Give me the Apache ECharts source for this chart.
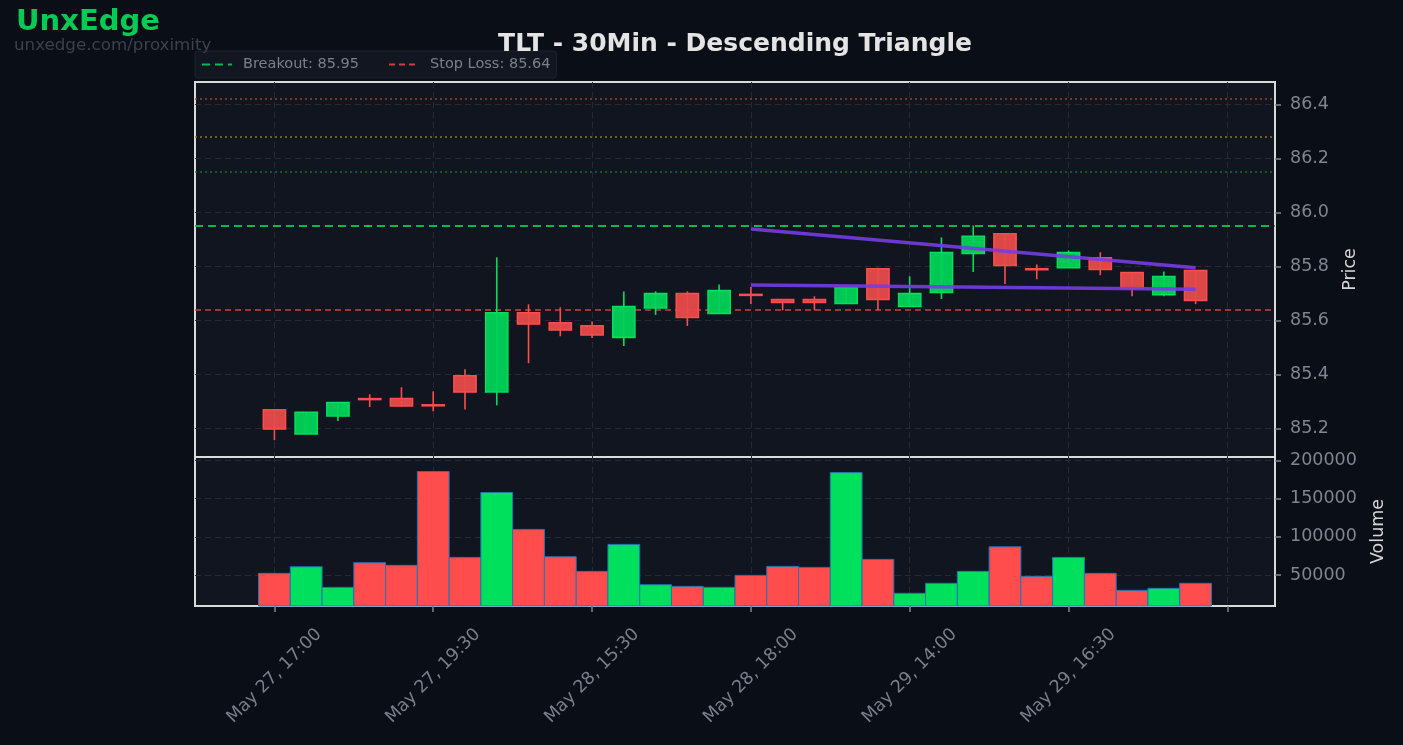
<!DOCTYPE html>
<html>
<head>
<meta charset="utf-8">
<title>TLT - 30Min - Descending Triangle</title>
<script src="https://cdn.jsdelivr.net/npm/echarts@6/dist/echarts.min.js"></script>
<style>
  html, body { margin: 0; padding: 0; background: #0a0e17; }
  #chart { width: 1403px; height: 745px; }
</style>
</head>
<body>
<div id="chart"></div>
<script>
// candle data, 30 bars of 30 minutes
const opens  = [85.269, 85.179, 85.246, 85.310, 85.310, 85.287, 85.395, 85.334, 85.628, 85.591,
                85.580, 85.536, 85.646, 85.699, 85.625, 85.696, 85.677, 85.677, 85.662, 85.791,
                85.651, 85.703, 85.847, 85.921, 85.791, 85.795, 85.832, 85.777, 85.695, 85.784]
const highs  = [85.269, 85.259, 85.297, 85.326, 85.352, 85.337, 85.419, 85.833, 85.659, 85.648,
                85.596, 85.707, 85.707, 85.707, 85.733, 85.723, 85.677, 85.689, 85.725, 85.795,
                85.763, 85.907, 85.951, 85.921, 85.807, 85.859, 85.852, 85.777, 85.781, 85.784]
const lows   = [85.156, 85.179, 85.227, 85.279, 85.280, 85.263, 85.270, 85.285, 85.441, 85.541,
                85.534, 85.505, 85.620, 85.579, 85.625, 85.660, 85.637, 85.637, 85.662, 85.638,
                85.651, 85.679, 85.779, 85.734, 85.752, 85.795, 85.767, 85.689, 85.689, 85.660]
const closes = [85.197, 85.259, 85.296, 85.308, 85.283, 85.285, 85.334, 85.628, 85.586, 85.564,
                85.546, 85.651, 85.699, 85.610, 85.710, 85.694, 85.666, 85.666, 85.721, 85.677,
                85.699, 85.851, 85.911, 85.803, 85.789, 85.851, 85.788, 85.719, 85.762, 85.673]
const volumes = [52200, 60800, 33900, 66100, 62700, 185400, 73100, 158000, 109700, 73900,
                 54800, 90100, 37300, 35200, 33900, 49600, 61300, 60000, 184000, 70500,
                 26100, 39200, 54800, 86900, 48300, 73100, 52200, 30000, 32600, 39200]

// x ticks (bar index) and their labels
const tickPos = [0, 5, 10, 15, 20, 25, 30]
const tickLabels = ['May 27, 17:00', 'May 27, 19:30', 'May 28, 15:30', 'May 28, 18:00',
                    'May 29, 14:00', 'May 29, 16:30', '']

const priceTicks = [85.2, 85.4, 85.6, 85.8, 86.0, 86.2, 86.4]
const volumeTicks = [50000, 100000, 150000, 200000]

// pattern levels
const breakout = 85.95
const stopLoss = 85.64
const targets = [86.15, 86.28, 86.42]
const targetColors = ['#12703f', '#8a7a18', '#99461f']

// triangle trendlines [barIndex, price]
const upperLine = [[15, 85.938], [29, 85.795]]
const lowerLine = [[15, 85.731], [29, 85.715]]

const GREEN = '#00e05c'
const RED = '#ff4d4d'
const FONT = 'DejaVu Sans'

const candleData = opens.map((o, i) => [i, o, closes[i], lows[i], highs[i]])
const volumeData = volumes.map((v, i) => [i, v, closes[i] >= opens[i] ? 1 : 0])

const renderCandle = (params, api) => {
  const x = api.value(0)
  const o = api.value(1)
  const c = api.value(2)
  const up = c >= o
  const col = up ? GREEN : RED
  const fill = up ? 'rgba(0, 210, 88, 0.95)' : 'rgba(232, 74, 74, 0.95)'
  const hi = api.coord([x, api.value(4)])
  const lo = api.coord([x, api.value(3)])
  const top = api.coord([x, Math.max(o, c)])
  const bot = api.coord([x, Math.min(o, c)])
  const w = api.size([0.7, 0])[0]
  const h = Math.max(bot[1] - top[1], 1)
  return {
    type: 'group',
    children: [
      {
        type: 'line',
        shape: { x1: hi[0], y1: hi[1], x2: lo[0], y2: lo[1] },
        style: { stroke: col, lineWidth: 1.6 }
      },
      {
        type: 'rect',
        shape: { x: top[0] - w / 2, y: top[1], width: w, height: h },
        style: { fill: fill, stroke: col, lineWidth: 1.5 }
      }
    ]
  }
}

const renderVolume = (params, api) => {
  const x = api.value(0)
  const left = api.coord([x - 0.5, api.value(1)])
  const right = api.coord([x + 0.5, api.value(1)])
  const base = params.coordSys.y + params.coordSys.height
  return {
    type: 'rect',
    shape: { x: left[0], y: left[1], width: right[0] - left[0], height: base - left[1] },
    style: { fill: api.value(2) ? GREEN : RED, stroke: '#1f77b4', lineWidth: 1 }
  }
}

const gridLine = { show: true, lineStyle: { color: '#262a36', type: [6, 4], width: 1 } }
const tickStyle = { color: '#80858f', width: 1.5 }

const chart = echarts.init(document.getElementById('chart'))

chart.setOption({
  backgroundColor: '#0a0e17',
  animation: false,
  textStyle: { fontFamily: FONT },
  title: [
    {
      text: 'TLT - 30Min - Descending Triangle',
      left: 730,
      top: 27,
      textAlign: 'center',
      textStyle: { color: '#e4e4e4', fontSize: 25, fontWeight: 'bold', fontFamily: FONT }
    },
    {
      text: 'UnxEdge',
      left: 16,
      top: 8,
      padding: 0,
      textStyle: { color: '#00cc55', fontSize: 29, fontWeight: 'bold', fontFamily: FONT }
    },
    {
      text: 'unxedge.com/proximity',
      left: 14,
      top: 37,
      padding: 0,
      textStyle: { color: '#3c414c', fontSize: 16.7, fontWeight: 'normal', fontFamily: FONT }
    }
  ],
  legend: {
    left: 195,
    top: 51,
    padding: [6, 6, 6, 6],
    itemGap: 29,
    itemWidth: 30,
    itemHeight: 14,
    backgroundColor: '#121620',
    borderColor: '#1e2230',
    borderWidth: 1,
    borderRadius: 3,
    itemStyle: { opacity: 0 },
    textStyle: { color: '#7b808b', fontSize: 14.5, fontFamily: FONT, padding: [0, 0, 0, 6] },
    data: ['Breakout: 85.95', 'Stop Loss: 85.64']
  },
  grid: [
    { left: 195, right: 128, top: 82, height: 375, show: true, backgroundColor: '#11151f', borderColor: '#dadada', borderWidth: 2 },
    { left: 195, right: 128, top: 457, height: 149, show: true, backgroundColor: '#11151f', borderColor: '#dadada', borderWidth: 2 }
  ],
  xAxis: [
    {
      type: 'value', gridIndex: 0, min: -2.5, max: 31.5,
      axisLine: { show: false, onZero: false },
      axisTick: { show: false, customValues: tickPos },
      axisLabel: { show: false, customValues: tickPos },
      splitLine: gridLine
    },
    {
      type: 'value', gridIndex: 1, min: -2.5, max: 31.5,
      axisLine: { show: false, onZero: false },
      axisTick: { show: true, customValues: tickPos, length: 6, lineStyle: tickStyle },
      axisLabel: {
        customValues: tickPos,
        formatter: v => tickLabels[tickPos.indexOf(v)] || '',
        rotate: 45,
        align: 'center',
        verticalAlign: 'middle',
        margin: 70,
        color: '#7a7f8a',
        fontSize: 17.5,
        fontFamily: FONT
      },
      splitLine: gridLine
    }
  ],
  yAxis: [
    {
      type: 'value', gridIndex: 0, position: 'right', min: 85.0937, max: 86.4826,
      name: 'Price', nameLocation: 'middle', nameRotate: 90, nameGap: 66,
      nameTextStyle: { color: '#d6d6d6', fontSize: 17.5, fontFamily: FONT },
      axisLine: { show: false, onZero: false },
      axisTick: { show: true, customValues: priceTicks, length: 6, lineStyle: tickStyle },
      axisLabel: { customValues: priceTicks, formatter: v => v.toFixed(1), margin: 15, padding: [3, 0, 0, 0], color: '#80858f', fontSize: 17.5, fontFamily: FONT },
      splitLine: gridLine
    },
    {
      type: 'value', gridIndex: 1, position: 'right', min: 9500, max: 204400,
      name: 'Volume', nameLocation: 'middle', nameRotate: 90, nameGap: 94,
      nameTextStyle: { color: '#d6d6d6', fontSize: 17.5, fontFamily: FONT },
      axisLine: { show: false, onZero: false },
      axisTick: { show: true, customValues: volumeTicks, length: 6, lineStyle: tickStyle },
      axisLabel: { customValues: volumeTicks, formatter: v => String(v), margin: 15, padding: [3, 0, 0, 0], color: '#80858f', fontSize: 17.5, fontFamily: FONT },
      splitLine: gridLine
    }
  ],
  series: [
    {
      name: 'targets',
      type: 'line',
      xAxisIndex: 0,
      yAxisIndex: 0,
      data: [],
      markLine: {
        silent: true,
        symbol: 'none',
        label: { show: false },
        data: targets.map((t, i) => ({
          yAxis: t,
          lineStyle: { color: targetColors[i], type: [2, 3], width: 1.5 }
        }))
      }
    },
    {
      name: 'Breakout: 85.95',
      type: 'line',
      xAxisIndex: 0,
      yAxisIndex: 0,
      data: [],
      symbol: 'none',
      lineStyle: { color: '#00b852', type: [8, 5], width: 2 },
      itemStyle: { color: '#00b852' },
      markLine: {
        silent: true,
        symbol: 'none',
        label: { show: false },
        lineStyle: { color: '#00b852', type: [8, 5], width: 2 },
        data: [{ yAxis: breakout }]
      }
    },
    {
      name: 'Stop Loss: 85.64',
      type: 'line',
      xAxisIndex: 0,
      yAxisIndex: 0,
      data: [],
      symbol: 'none',
      lineStyle: { color: '#c9423f', type: [6, 4], width: 1.5 },
      itemStyle: { color: '#c9423f' },
      markLine: {
        silent: true,
        symbol: 'none',
        label: { show: false },
        lineStyle: { color: '#c9423f', type: [6, 4], width: 1.5 },
        data: [{ yAxis: stopLoss }]
      }
    },
    {
      name: 'candles',
      type: 'custom',
      xAxisIndex: 0,
      yAxisIndex: 0,
      renderItem: renderCandle,
      encode: { x: 0, y: [1, 2, 3, 4] },
      data: candleData,
      z: 5
    },
    {
      name: 'upper',
      type: 'line',
      xAxisIndex: 0,
      yAxisIndex: 0,
      data: upperLine,
      symbol: 'none',
      lineStyle: { color: 'rgba(118, 60, 228, 0.9)', width: 3.5 },
      z: 10
    },
    {
      name: 'lower',
      type: 'line',
      xAxisIndex: 0,
      yAxisIndex: 0,
      data: lowerLine,
      symbol: 'none',
      lineStyle: { color: 'rgba(118, 60, 228, 0.9)', width: 3.5 },
      z: 10
    },
    {
      name: 'volume',
      type: 'custom',
      xAxisIndex: 1,
      yAxisIndex: 1,
      renderItem: renderVolume,
      encode: { x: 0, y: 1 },
      data: volumeData
    }
  ]
})

window.addEventListener('resize', () => chart.resize())
</script>
</body>
</html>
